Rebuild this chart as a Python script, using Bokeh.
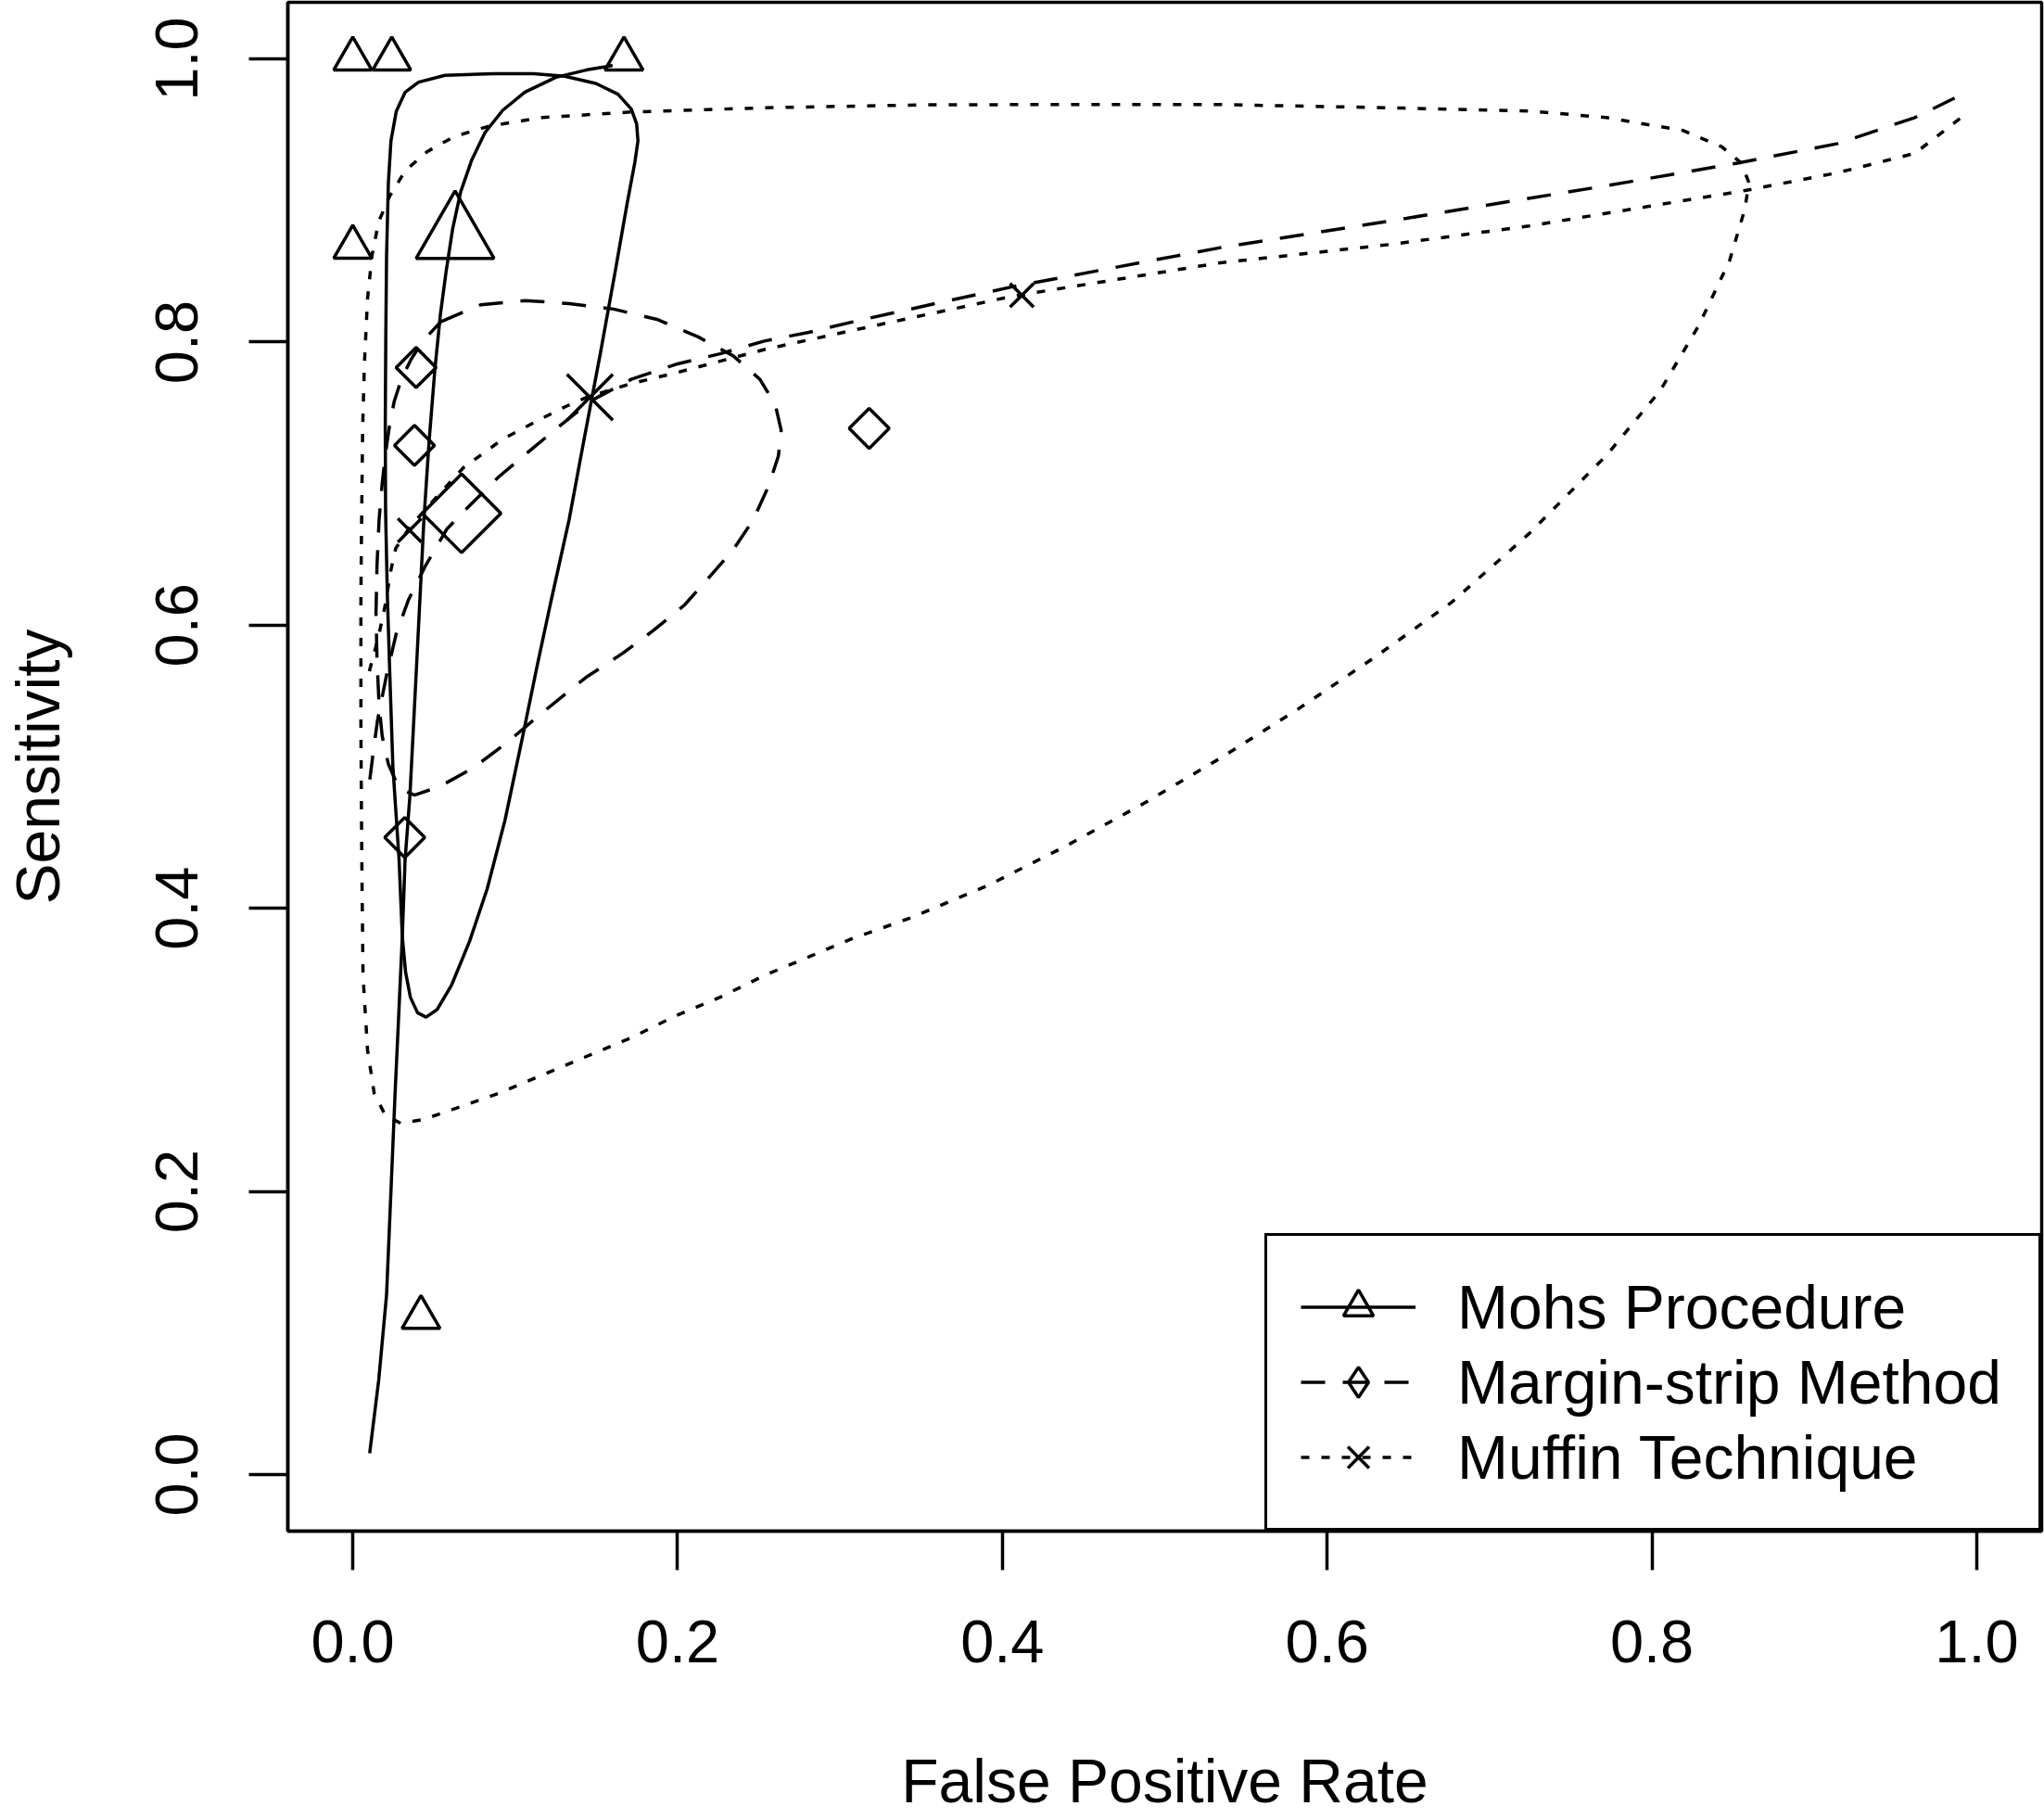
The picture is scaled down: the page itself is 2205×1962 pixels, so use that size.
import math
from bokeh.plotting import figure
from bokeh.models import Range1d, FixedTicker, PrintfTickFormatter, Legend, LegendItem
from bokeh.embed import file_html
from bokeh.resources import INLINE

# ---------------- data ----------------
series_names = ["Mohs Procedure", "Margin-strip Method", "Muffin Technique"]
x_title = "False Positive Rate"
y_title = "Sensitivity"
tick_values = [0.0, 0.2, 0.4, 0.6, 0.8, 1.0]

# study-level points (FPR, sensitivity)
mohs_fpr = [0.0, 0.024, 0.167, 0.0, 0.042]
mohs_sens = [1.0, 1.0, 1.0, 0.867, 0.111]
margin_fpr = [0.039, 0.038, 0.032, 0.318]
margin_sens = [0.782, 0.727, 0.450, 0.739]
muffin_fpr = [0.035, 0.412]
muffin_sens = [0.667, 0.833]

# summary estimates
mohs_sum_fpr = [0.063]
mohs_sum_sens = [0.875]
margin_sum_fpr = [0.067]
margin_sum_sens = [0.679]
muffin_sum_fpr = [0.146]
muffin_sum_sens = [0.761]

# SROC curves
mohs_sroc_fpr = [0.0104, 0.016, 0.0208, 0.0235, 0.026, 0.0285, 0.0305, 0.0322, 0.0352, 0.039,
                 0.0438, 0.047, 0.0505, 0.054, 0.0575, 0.0615, 0.0664, 0.0732, 0.0814, 0.0923,
                 0.106, 0.1251, 0.1442, 0.1565, 0.160]
mohs_sroc_sens = [0.015, 0.067, 0.127, 0.200, 0.268, 0.330, 0.380, 0.434, 0.480, 0.565,
                  0.6745, 0.730, 0.780, 0.820, 0.850, 0.880, 0.906, 0.9285, 0.948, 0.9637,
                  0.9766, 0.987, 0.9923, 0.9947, 0.9955]

margin_sroc_fpr = [0.0105, 0.0124, 0.0152, 0.0209, 0.0267, 0.0342, 0.0447, 0.058, 0.0672, 0.0896,
                   0.1114, 0.1305, 0.1469, 0.1715, 0.1988, 0.2261, 0.2534, 0.2807, 0.308, 0.354,
                   0.406, 0.5343, 0.6488, 0.7718, 0.8526, 0.9144, 0.9619, 0.989]
margin_sroc_sens = [0.491, 0.5086, 0.5326, 0.5654, 0.5937, 0.6177, 0.6418, 0.668, 0.679, 0.7045,
                    0.7256, 0.7436, 0.7586, 0.7737, 0.7842, 0.7917, 0.8007, 0.8068, 0.8143, 0.826,
                    0.839, 0.8667, 0.8874, 0.9104, 0.9264, 0.9402, 0.9586, 0.9738]

muffin_sroc_fpr = [0.0102, 0.0156, 0.020, 0.0233, 0.0265, 0.035, 0.0441, 0.0681, 0.0921, 0.1139,
                   0.1314, 0.1445, 0.1715, 0.1988, 0.2534, 0.308, 0.406, 0.5343, 0.6393, 0.7243,
                   0.8067, 0.8573, 0.9144, 0.9619, 0.9904]
muffin_sroc_sens = [0.5675, 0.5908, 0.6143, 0.638, 0.6544, 0.669, 0.681, 0.7112, 0.7312, 0.7446,
                    0.7546, 0.7612, 0.7707, 0.7782, 0.7947, 0.8083, 0.8323, 0.856, 0.869, 0.882,
                    0.8975, 0.907, 0.9196, 0.9333, 0.9586]

# confidence regions (closed outlines)
mohs_reg_fpr = [0.0869, 0.0568, 0.0405, 0.0323, 0.0268, 0.0235, 0.0219, 0.0208, 0.0203, 0.0200,
                0.0202, 0.0213, 0.0228, 0.0247, 0.0285, 0.0305, 0.0325, 0.0355, 0.0399, 0.0451,
                0.0519, 0.0609, 0.0719, 0.0828, 0.0937, 0.1046, 0.1136, 0.1218, 0.1332, 0.1415,
                0.1524, 0.1619, 0.1688, 0.1737, 0.1756, 0.1748, 0.1715, 0.1633, 0.1497, 0.1305,
                0.1114]
mohs_reg_sens = [0.9896, 0.9884, 0.9836, 0.9766, 0.9631, 0.9421, 0.912, 0.8609, 0.8007, 0.7406,
                 0.6805, 0.6203, 0.5654, 0.500, 0.4344, 0.380, 0.355, 0.337, 0.3262, 0.3231,
                 0.3284, 0.3459, 0.3766, 0.4139, 0.4621, 0.5213, 0.5717, 0.6156, 0.6745, 0.7256,
                 0.7917, 0.8519, 0.897, 0.927, 0.9421, 0.9541, 0.9646, 0.9751, 0.9827, 0.9878,
                 0.9896]

margin_reg_fpr = [0.0541, 0.0787, 0.106, 0.1333, 0.1606, 0.1879, 0.2124, 0.2343, 0.2507, 0.2602,
                  0.2638, 0.2621, 0.2561, 0.2466, 0.2343, 0.2206, 0.2043, 0.1852, 0.166, 0.1435,
                  0.1165, 0.0952, 0.074, 0.0535, 0.038, 0.0285, 0.0219, 0.0181, 0.0162, 0.0149,
                  0.0143, 0.0149, 0.0162, 0.0181, 0.020, 0.0225, 0.0255, 0.030, 0.036, 0.0432]
margin_reg_sens = [0.8143, 0.8263, 0.8293, 0.8272, 0.8233, 0.8158, 0.8038, 0.7902, 0.7737, 0.7556,
                   0.7376, 0.7196, 0.6985, 0.6744, 0.6534, 0.6353, 0.6143, 0.5963, 0.580, 0.563,
                   0.538, 0.5173, 0.499, 0.486, 0.480, 0.4846, 0.502, 0.5217, 0.5435, 0.5763,
                   0.609, 0.6418, 0.6745, 0.700, 0.720, 0.740, 0.758, 0.774, 0.788, 0.8007]

muffin_reg_fpr = [0.8597, 0.855, 0.8431, 0.8193, 0.7718, 0.7243, 0.6465, 0.5343, 0.4393, 0.3539,
                  0.2534, 0.1715, 0.1169, 0.0841, 0.0623, 0.0459, 0.0323, 0.0227, 0.0159, 0.0118,
                  0.0091, 0.0072, 0.0061, 0.0055, 0.005, 0.005, 0.0055, 0.0063, 0.0091, 0.0132,
                  0.020, 0.0295, 0.0432, 0.0623, 0.0896, 0.1169, 0.1442, 0.1715, 0.1988, 0.2261,
                  0.2534, 0.2807, 0.308, 0.3443, 0.3918, 0.4393, 0.4868, 0.5343, 0.5818, 0.6293,
                  0.6768, 0.7243, 0.7718, 0.8051, 0.8288, 0.8478, 0.8573]
muffin_reg_sens = [0.9127, 0.9264, 0.9379, 0.9494, 0.9586, 0.9632, 0.9653, 0.9678, 0.9678, 0.9676,
                   0.9655, 0.9625, 0.9586, 0.9526, 0.9451, 0.9346, 0.921, 0.903, 0.8849, 0.8609,
                   0.8308, 0.7857, 0.7406, 0.6805, 0.6203, 0.5279, 0.4402, 0.3525, 0.2998, 0.2692,
                   0.2538, 0.2481, 0.2507, 0.2582, 0.2692, 0.2823, 0.2955, 0.3086, 0.324, 0.3371,
                   0.3525, 0.3656, 0.3788, 0.3935, 0.4165, 0.4441, 0.4739, 0.5061, 0.5405, 0.5773,
                   0.6163, 0.6646, 0.7197, 0.7657, 0.8116, 0.8575, 0.8943]

# ---------------- styling ----------------
FONT = "Liberation Sans"
LW = 3.5
DASHED = "26 19"
DOTTED = "9 13"

p = figure(width=2205, height=1962,
           x_range=Range1d(-0.04, 1.04), y_range=Range1d(-0.04, 1.04),
           output_backend="svg", toolbar_location=None,
           min_border_left=310, min_border_right=3, min_border_top=2, min_border_bottom=311,
           background_fill_color="white", border_fill_color="white")
p.grid.visible = False
p.outline_line_color = "black"
p.outline_line_width = LW
p.outline_line_alpha = 1.0

for ax in (p.xaxis[0], p.yaxis[0]):
    ax.ticker = FixedTicker(ticks=tick_values)
    ax.formatter = PrintfTickFormatter(format="%.1f")
    ax.major_tick_in = 0
    ax.major_tick_out = 42
    ax.minor_tick_in = 0
    ax.minor_tick_out = 0
    ax.major_tick_line_width = LW
    ax.major_tick_line_color = "black"
    ax.axis_line_width = LW
    ax.axis_line_color = "black"
    ax.major_label_text_font = FONT
    ax.major_label_text_font_size = "65px"
    ax.major_label_text_color = "black"
    ax.axis_label_text_font = FONT
    ax.axis_label_text_font_size = "66px"
    ax.axis_label_text_font_style = "normal"
    ax.axis_label_text_color = "black"

p.xaxis[0].axis_label = x_title
p.yaxis[0].axis_label = y_title
p.xaxis[0].major_label_standoff = 54
p.yaxis[0].major_label_standoff = 55
p.yaxis[0].major_label_orientation = "vertical"
p.xaxis[0].axis_label_standoff = 88
p.yaxis[0].axis_label_standoff = 88


def closed(a):
    return list(a) + [a[0]]


# confidence regions
p.line(closed(mohs_reg_fpr), closed(mohs_reg_sens), line_color="black", line_width=LW)
p.line(closed(margin_reg_fpr), closed(margin_reg_sens), line_color="black", line_width=LW,
       line_dash=DASHED)
p.line(closed(muffin_reg_fpr), closed(muffin_reg_sens), line_color="black", line_width=LW,
       line_dash=DOTTED)

# SROC curves
l_mohs = p.line(mohs_sroc_fpr, mohs_sroc_sens, line_color="black", line_width=LW)
l_margin = p.line(margin_sroc_fpr, margin_sroc_sens, line_color="black", line_width=LW,
                  line_dash=DASHED)
l_muffin = p.line(muffin_sroc_fpr, muffin_sroc_sens, line_color="black", line_width=LW,
                  line_dash=DOTTED)

# study points
s_mohs = p.scatter(mohs_fpr, mohs_sens, marker="triangle", size=41, fill_color=None,
                   line_color="black", line_width=LW)
s_margin = p.scatter(margin_fpr, margin_sens, marker="square", angle=math.pi / 4, size=30.5,
                     fill_color=None, line_color="black", line_width=LW)
s_muffin = p.scatter(muffin_fpr, muffin_sens, marker="x", size=36, fill_color=None,
                     line_color="black", line_width=LW)

# summary points
p.scatter(mohs_sum_fpr, mohs_sum_sens, marker="triangle", size=84, fill_color=None,
          line_color="black", line_width=LW)
p.scatter(margin_sum_fpr, margin_sum_sens, marker="square", angle=math.pi / 4, size=60,
          fill_color=None, line_color="black", line_width=LW)
p.scatter(muffin_sum_fpr, muffin_sum_sens, marker="x", size=70, fill_color=None,
          line_color="black", line_width=LW)

# hidden diamond key for the legend (legend keys ignore marker rotation)
k_margin = p.scatter(margin_fpr, margin_sens, marker="diamond", size=30, fill_color=None,
                     line_color="black", line_width=LW, visible=False)

legend = Legend(items=[
    LegendItem(label=series_names[0], renderers=[l_mohs, s_mohs]),
    LegendItem(label=series_names[1], renderers=[l_margin, k_margin]),
    LegendItem(label=series_names[2], renderers=[l_muffin, s_muffin]),
], location="bottom_right", margin=0, padding=36, spacing=0,
    glyph_width=124, glyph_height=81, label_standoff=45, label_width=591,
    label_text_font=FONT, label_text_font_size="66px", label_text_color="black",
    border_line_color="black", border_line_width=LW, border_line_alpha=1.0,
    background_fill_color="white", background_fill_alpha=1.0)
p.add_layout(legend)

open("out.html", "w").write(file_html(p, INLINE))
